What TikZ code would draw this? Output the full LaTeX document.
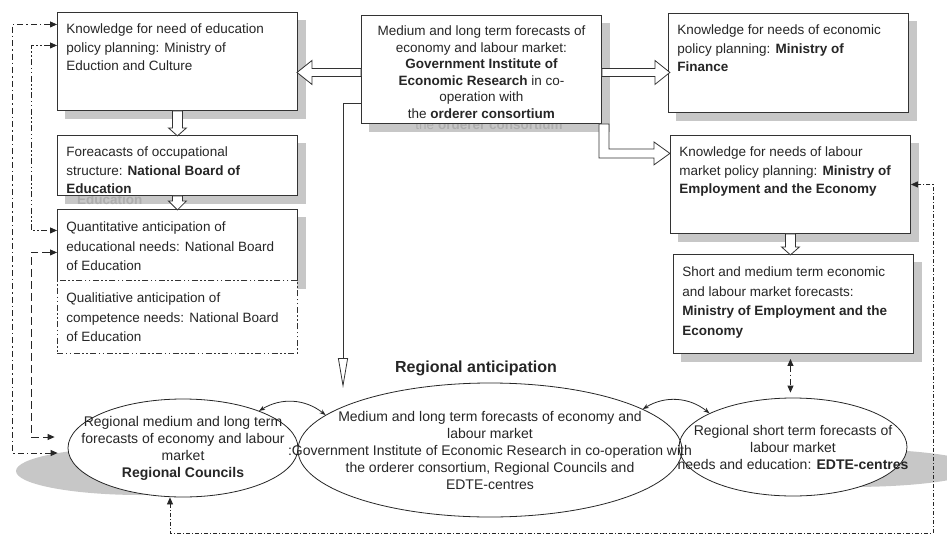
\documentclass[tikz,border=0pt]{standalone}
\usepackage{fontspec}
\setmainfont{Liberation Sans}
\usetikzlibrary{arrows.meta, shapes.geometric, backgrounds}

\newcommand{\boxtext}[3][\raggedright]{\parbox[c][#2][t]{222pt}{#1\strut #3}}

\begin{document}
\begin{tikzpicture}[x=1pt, y=-1pt,
    box/.style={draw=black!80, line width=0.9pt, fill=white, anchor=north west, inner xsep=9pt, inner ysep=8.5pt, text=black!85, font=\fontsize{13.5}{18.5}\selectfont},
    loosebox/.style={box, font=\fontsize{13.5}{19.5}\selectfont},
    oval/.style={ellipse, draw=black!85, line width=0.8pt, inner sep=0pt},
    ovaltext/.style={align=center, inner sep=0pt, text=black!85, font=\fontsize{14}{17}\selectfont},
    boxshade/.style={fill=black!22},
    ghost/.style={inner sep=0pt, text=black!32, font=\fontsize{13.5}{17}\selectfont},
    fatbody/.style={draw=black!80, line width=0.8pt, fill=white, line join=miter},
    link/.style={draw=black!85, line width=0.8pt, {Triangle[length=7pt, width=6pt]}-{Triangle[length=7pt, width=6pt]}},
    dashdot/.style={dash pattern=on 6pt off 3pt on 1.5pt off 3pt},
    dashdotdot/.style={dash pattern=on 6pt off 2.5pt on 1.5pt off 2.5pt on 1.5pt off 2.5pt},
    longdash/.style={dash pattern=on 8pt off 4pt}]

  \useasboundingbox (0,0) rectangle (947,535);

  % ministries and boards
  \node[box, minimum width=240pt] (edumin) at (57,12) {\boxtext{81pt}{Knowledge for need of education\\ policy planning: Ministry of\\ Eduction and Culture}};
  \node[box] (occup) at (57,135) {\boxtext{43pt}{Foreacasts of occupational\\ structure: \textbf{National Board of}\\ \textbf{Education}}};
  \node[loosebox] (quant) at (57,209) {\boxtext{54pt}{Quantitative anticipation of\\ educational needs: National Board\\ of Education}};
  \node[loosebox, dashdotdot] (qual) at (57,280) {\boxtext{56pt}{Qualitiative anticipation of\\ competence needs: National Board\\ of Education}};
  \node[box, font=\fontsize{13.5}{16.6}\selectfont] (cbox) at (361,15) {\boxtext[\centering]{91pt}{Medium and long term forecasts of\\ economy and labour market:\\ \textbf{Government Institute of}\\ \textbf{Economic Research} in co-\\ operation with\\ the \textbf{orderer consortium}}};
  \node[box] (finance) at (668,13) {\boxtext{82pt}{Knowledge for needs of economic\\ policy planning: \textbf{Ministry of}\\ \textbf{Finance}}};
  \node[box] (labour) at (670,135) {\boxtext{81pt}{Knowledge for needs of labour\\ market policy planning: \textbf{Ministry of}\\ \textbf{Employment and the Economy}}};
  \node[loosebox] (shortfc) at (673,254) {\boxtext{82pt}{Short and medium term economic\\ and labour market forecasts:\\ \textbf{Ministry of Employment and the}\\ \textbf{Economy}}};

  % regional level
  \node[font=\bfseries\fontsize{16}{19}\selectfont, text=black!85] (title) at (476,368) {Regional anticipation};
  \node[oval, fill=white, minimum width=230pt, minimum height=98pt,
        label={[ovaltext]center:{Regional medium and long term\\ forecasts of economy and labour\\ market\\ \textbf{Regional Councils}}}] (leftell) at (183,448) {};
  \node[oval, fill=white, minimum width=228pt, minimum height=98pt,
        label={[ovaltext]center:{Regional short term forecasts of\\ labour market\\ needs and education: \textbf{EDTE-centres}}}] (rightell) at (793,447) {};
  \node[oval, minimum width=384pt, minimum height=134pt,
        label={[ovaltext]center:{Medium and long term forecasts of economy and\\ labour market\\ :Government Institute of Economic Research in co-operation with\\ the orderer consortium, Regional Councils and\\ EDTE-centres}}] (midell) at (490,450) {};

  \coordinate (downtip) at (343,388);
  \coordinate (corner) at (933,533);

  \begin{scope}[on background layer]
    \foreach \n in {edumin, occup, quant, cbox, finance, labour, shortfc}
      \fill[boxshade] ([shift={(8pt,-8pt)}]\n.north west) rectangle ([shift={(8pt,-8pt)}]\n.south east);
    \node[ghost, anchor=base west] (ghostedu) at (77,204) {\textbf{Education}};
    \node[ghost, anchor=base] (ghostcons) at (489,129) {the \textbf{orderer consortium}};
    \fill[boxshade] (141,471) ellipse [x radius=125pt, y radius=24pt];
    \fill[boxshade] (850,468) ellipse [x radius=128pt, y radius=19pt];
  \end{scope}

  % national flows
  \draw[fatbody] ([yshift=1pt]cbox.west) -- ++(-49,0) -- ++(0,-8) -- ++(-15,12) -- ++(15,12) -- ++(0,-8) -- ++(49,0) -- cycle;
  \draw[fatbody] ([yshift=1pt]cbox.east) -- ++(53,0) -- ++(0,-8) -- ++(15,12) -- ++(-15,12) -- ++(0,-8) -- ++(-53,0) -- cycle;
  \draw[fatbody] ([xshift=-3pt]cbox.south east) -- ++(0,34) -- ++(55,0) -- ++(0,7) -- ++(16,-11.5) -- ++(-16,-11.5) -- ++(0,7) -- ++(-45,0) -- ++(0,-25) -- cycle;
  \draw[fatbody] ([xshift=-5pt]edumin.south) -- ++(0,17) -- ++(-4,0) -- ++(9,8) -- ++(9,-8) -- ++(-4,0) -- ++(0,-17) -- cycle;
  \draw[fatbody] ([xshift=-5pt]occup.south) -- ++(0,5) -- ++(-4,0) -- ++(9,9) -- ++(9,-9) -- ++(-4,0) -- ++(0,-5) -- cycle;
  \draw[fatbody] ([xshift=-5pt]labour.south) -- ++(0,13) -- ++(-4,0) -- ++(9,8) -- ++(9,-8) -- ++(-4,0) -- ++(0,-13) -- cycle;
  \draw[draw=black!80, line width=0.8pt, -{Triangle[open, length=30pt, width=10pt]}] ([yshift=-34pt]cbox.west) -| (downtip);

  % feedback links
  \draw[link, dashdot] ([yshift=37pt]edumin.west) -- ++(-45,0) |- ([xshift=-10pt, yshift=-5pt]leftell.west);
  \draw[link, dashdotdot] ([yshift=16pt]edumin.west) -- ++(-26,0) |- ([yshift=14.5pt]quant.west);
  \draw[link, longdash] ([yshift=-7.5pt]quant.west) -- ++(-26,0) |- ([xshift=-13pt, yshift=11pt]leftell.west);
  \draw[link, dash pattern=on 4pt off 2pt on 1pt off 2pt] ([xshift=-13pt]leftell.south) |- (corner) |- (labour.east);
  \draw[link, dashdot] ([xshift=-3pt, yshift=-5pt]shortfc.south) -- ([xshift=-3pt, yshift=5pt]shortfc.south |- rightell.north);
  \draw[line width=0.8pt, black!85, {Stealth[length=6pt]}-{Stealth[length=6pt]}] (leftell.26) to[bend left=35] (midell.168);
  \draw[line width=0.8pt, black!85, {Stealth[length=6pt]}-{Stealth[length=6pt]}] (midell.15) to[bend left=35] (rightell.158);
\end{tikzpicture}
\end{document}
